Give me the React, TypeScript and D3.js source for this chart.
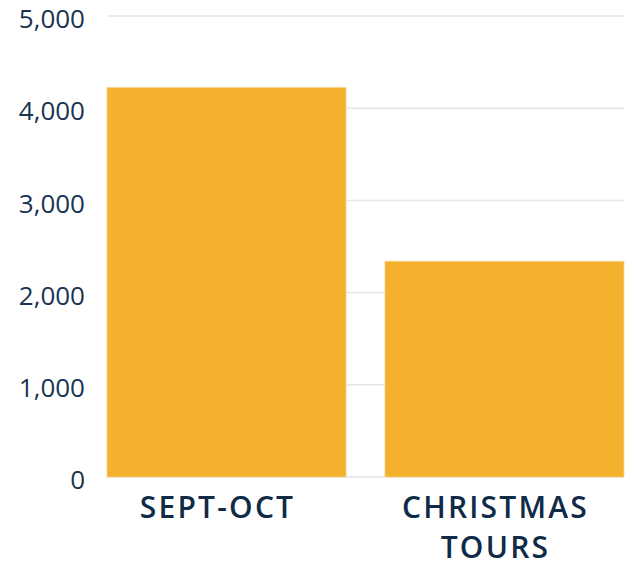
import React, { useEffect, useRef } from "react";
import * as d3 from "d3";

const categories = [["SEPT-OCT"], ["CHRISTMAS", "TOURS"]];
const values = [4225, 2340];
const yTicks = [0, 1000, 2000, 3000, 4000, 5000];

const App = () => {
    const ref = useRef<SVGSVGElement>(null);

    useEffect(() => {
        const w = 637;
        const h = 567;
        const left = 107;
        const right = 624;
        const top = 16;
        const bottom = 477;

        const svg = d3.select(ref.current);
        svg.selectAll("*").remove();

        const x = d3.scaleBand()
            .domain(d3.range(values.length).map(String))
            .range([left, right])
            .paddingInner(0.14)
            .paddingOuter(0);

        const y = d3.scaleLinear()
            .domain([0, 5000])
            .range([bottom, top]);

        // grid lines
        svg.append("g")
            .selectAll("line")
            .data(yTicks)
            .join("line")
            .attr("x1", left)
            .attr("x2", right)
            .attr("y1", d => y(d))
            .attr("y2", d => y(d))
            .attr("stroke", "#e3e6eb")
            .attr("stroke-width", 1.5);

        // y tick labels
        svg.append("g")
            .selectAll("text")
            .data(yTicks)
            .join("text")
            .attr("x", 85)
            .attr("y", d => y(d))
            .attr("dy", "0.47em")
            .attr("text-anchor", "end")
            .attr("font-family", "Open Sans, sans-serif")
            .attr("font-size", 26)
            .attr("fill", "#183450")
            .text(d => d3.format(",")(d));

        // bars
        svg.append("g")
            .selectAll("rect")
            .data(values)
            .join("rect")
            .attr("x", (d, i) => x(String(i))!)
            .attr("y", d => y(d))
            .attr("width", x.bandwidth())
            .attr("height", d => bottom - y(d))
            .attr("fill", "#f3b12e")
            .attr("stroke", "#f8d58a")
            .attr("stroke-width", 0.8);

        // category labels (sit a little left of the bar centre)
        const labels = svg.append("g")
            .selectAll("text")
            .data(categories)
            .join("text")
            .attr("x", (d, i) => x(String(i))! + x.bandwidth() / 2 - 9)
            .attr("y", 518)
            .attr("text-anchor", "middle")
            .attr("font-family", "Open Sans, sans-serif")
            .attr("font-weight", 600)
            .attr("font-size", 30)
            .attr("letter-spacing", 2.2)
            .attr("fill", "#0f2b46");

        labels.selectAll("tspan")
            .data(d => d)
            .join("tspan")
            .attr("x", function () {
                return (this as any).parentNode.getAttribute("x");
            })
            .attr("dy", (d, i) => (i === 0 ? 0 : 40))
            .text(d => d);

        svg.attr("width", w).attr("height", h);
    }, []);

    return (
        <div style={{ position: "absolute", left: 0, top: 0 }}>
            <svg ref={ref} width={637} height={567}></svg>
        </div>
    );
};

export default App;
